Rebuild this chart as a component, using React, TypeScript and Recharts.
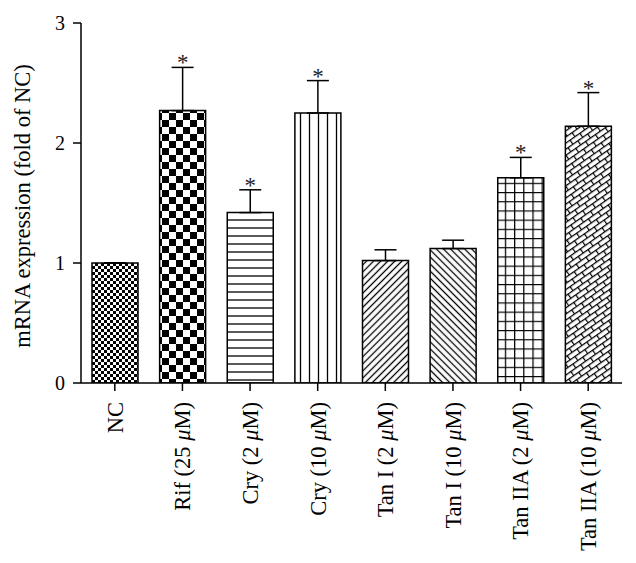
import React from 'react';
import { BarChart, Bar, XAxis, YAxis, ErrorBar, Cell, LabelList } from 'recharts';

const groups = [
  'NC',
  'Rif (25 μM)',
  'Cry (2 μM)',
  'Cry (10 μM)',
  'Tan I (2 μM)',
  'Tan I (10 μM)',
  'Tan IIA (2 μM)',
  'Tan IIA (10 μM)',
];
const expression = [1.0, 2.27, 1.42, 2.25, 1.02, 1.12, 1.71, 2.14];
const sem = [0, 0.36, 0.19, 0.27, 0.09, 0.07, 0.17, 0.28];
const significant = [false, true, true, true, false, false, true, true];
const yTicks = [0, 1, 2, 3];

const data = groups.map((name, i) => ({
  name,
  value: expression[i],
  err: [0, sem[i]],
}));

const FONT = '"Liberation Serif", "Times New Roman", serif';

// fill patterns, one per bar
const Patterns = () => (
  <svg width={0} height={0} style={{ position: 'absolute' }}>
    <defs>
      <pattern id="p0" patternUnits="userSpaceOnUse" width={6} height={6}>
        <rect width={6} height={6} fill="#fff" />
        <rect width={3} height={3} fill="#000" />
        <rect x={3} y={3} width={3} height={3} fill="#000" />
      </pattern>
      <pattern id="p1" patternUnits="userSpaceOnUse" width={14} height={14}>
        <rect width={14} height={14} fill="#fff" />
        <rect width={7} height={7} fill="#000" />
        <rect x={7} y={7} width={7} height={7} fill="#000" />
      </pattern>
      <pattern id="p2" patternUnits="userSpaceOnUse" width={8} height={8}>
        <rect width={8} height={8} fill="#fff" />
        <line x1={0} y1={4} x2={8} y2={4} stroke="#000" strokeWidth={1.3} />
      </pattern>
      <pattern id="p3" patternUnits="userSpaceOnUse" width={9} height={9}>
        <rect width={9} height={9} fill="#fff" />
        <line x1={4.5} y1={0} x2={4.5} y2={9} stroke="#000" strokeWidth={1.3} />
      </pattern>
      <pattern id="p4" patternUnits="userSpaceOnUse" width={5} height={5} patternTransform="rotate(45)">
        <rect width={5} height={5} fill="#fff" />
        <line x1={2.5} y1={0} x2={2.5} y2={5} stroke="#000" strokeWidth={1.3} />
      </pattern>
      <pattern id="p5" patternUnits="userSpaceOnUse" width={5} height={5} patternTransform="rotate(-45)">
        <rect width={5} height={5} fill="#fff" />
        <line x1={2.5} y1={0} x2={2.5} y2={5} stroke="#000" strokeWidth={1.3} />
      </pattern>
      <pattern id="p6" patternUnits="userSpaceOnUse" width={9.2} height={9.2}>
        <rect width={9.2} height={9.2} fill="#fff" />
        <path d="M0 0.6 H9.2 M0.6 0 V9.2" stroke="#000" strokeWidth={1.3} />
      </pattern>
      <pattern id="p7" patternUnits="userSpaceOnUse" width={12} height={10} patternTransform="rotate(-35)">
        <rect width={12} height={10} fill="#fff" />
        <path d="M0 0.6 H12 M0 5.6 H12 M0.6 0 V5 M6.6 5 V10" stroke="#000" strokeWidth={1.2} />
      </pattern>
    </defs>
  </svg>
);

const XTick = (props: any) => {
  const { x, y, payload } = props;
  const parts = String(payload.value).split('μ');
  return (
    <g transform={`translate(${x},${y})`}>
      <text
        transform="rotate(-90)"
        x={-9}
        y={0}
        dy="0.35em"
        textAnchor="end"
        fontFamily={FONT}
        fontSize={22.5}
        fill="#000"
      >
        {parts[0]}
        {parts.length > 1 && <tspan fontStyle="italic">μ</tspan>}
        {parts.length > 1 && parts[1]}
      </text>
    </g>
  );
};

const Star = (props: any) => {
  const { x, y, width, height, index } = props;
  if (!significant[index]) return null;
  const perUnit = height / expression[index];
  const capY = y - sem[index] * perUnit;
  return (
    <text x={x + width / 2} y={capY + 3} textAnchor="middle" fontFamily={FONT} fontSize={23} fill="#222">
      *
    </text>
  );
};

const YLabel = () => (
  <text
    transform="translate(22,198) rotate(-90)"
    textAnchor="middle"
    fontFamily={FONT}
    fontSize={22.5}
    fill="#000"
  >
    mRNA expression (fold of NC)
  </text>
);

export default function App() {
  return (
    <div style={{ position: 'relative' }}>
      <Patterns />
      <BarChart
        width={628}
        height={555}
        data={data}
        margin={{ top: 15, right: 14, left: 0, bottom: 0 }}
      >
        <XAxis
          dataKey="name"
          interval={0}
          height={180}
          tickSize={8}
          tick={<XTick />}
          axisLine={{ stroke: '#000', strokeWidth: 1.5 }}
          tickLine={{ stroke: '#000', strokeWidth: 1.5 }}
        />
        <YAxis
          width={73}
          domain={[0, 3]}
          ticks={yTicks}
          allowDataOverflow
          tickSize={8}
          tickMargin={8}
          axisLine={{ stroke: '#000', strokeWidth: 1.5 }}
          tickLine={{ stroke: '#000', strokeWidth: 1.5 }}
          tick={{ fill: '#000', fontFamily: FONT, fontSize: 20 }}
          label={<YLabel />}
        />
        <Bar dataKey="value" barSize={46} stroke="#000" strokeWidth={1.5} isAnimationActive={false}>
          {data.map((_, i) => (
            <Cell key={i} fill={`url(#p${i})`} />
          ))}
          <ErrorBar dataKey="err" width={11} stroke="#000" strokeWidth={1.5} direction="y" />
          <LabelList content={<Star />} />
        </Bar>
      </BarChart>
    </div>
  );
}
